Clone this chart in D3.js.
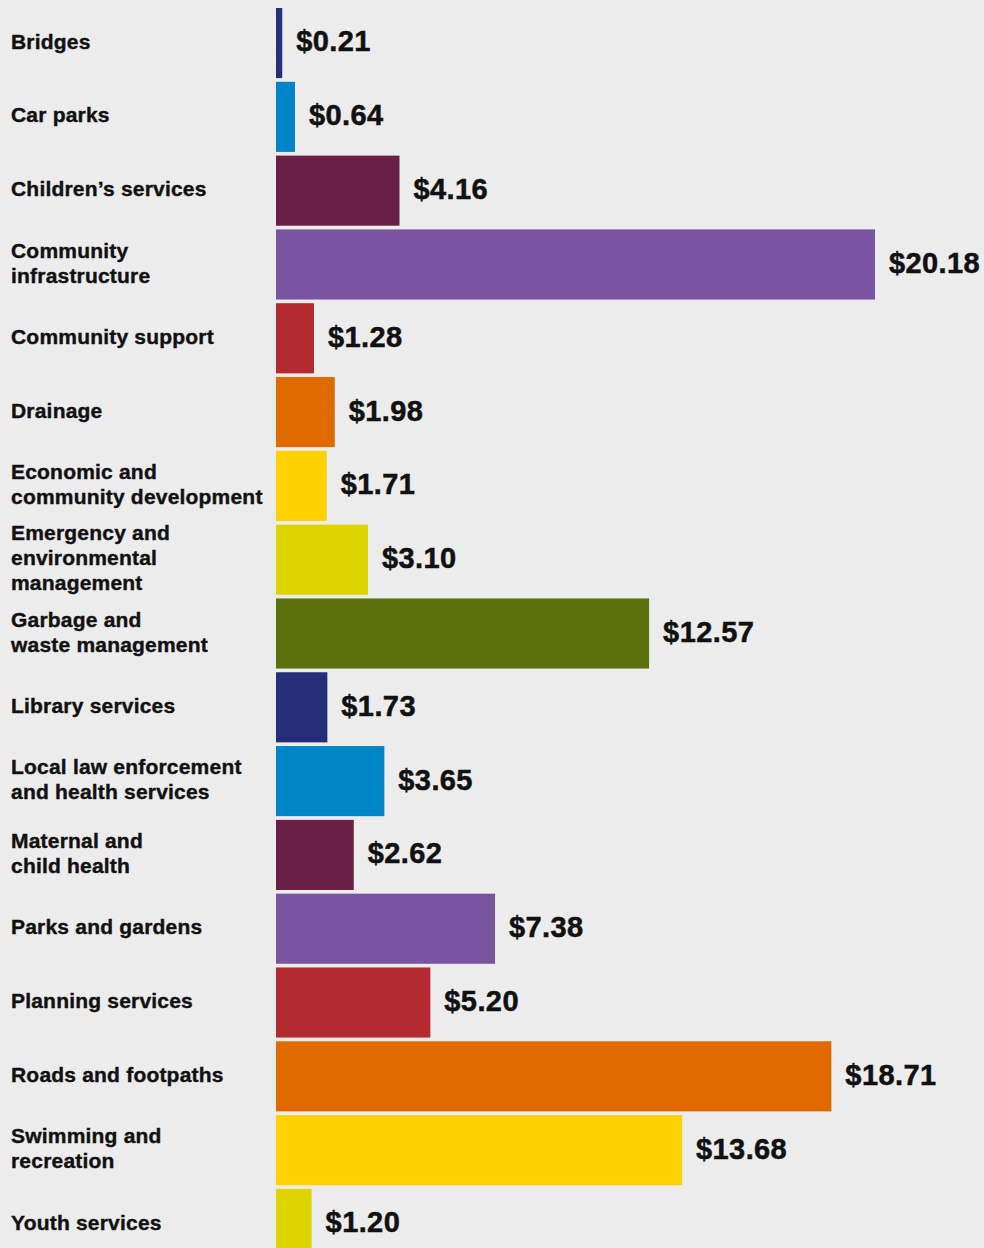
<!DOCTYPE html>
<html>
<head>
<meta charset="utf-8">
<script src="https://cdn.jsdelivr.net/npm/d3@7"></script>
<style>
  html, body { margin: 0; padding: 0; background: #ececec; }
  svg { display: block; }
</style>
</head>
<body>
<script>
const categories = [
  "Bridges",
  "Car parks",
  "Children’s services",
  "Community\ninfrastructure",
  "Community support",
  "Drainage",
  "Economic and\ncommunity development",
  "Emergency and\nenvironmental\nmanagement",
  "Garbage and\nwaste management",
  "Library services",
  "Local law enforcement\nand health services",
  "Maternal and\nchild health",
  "Parks and gardens",
  "Planning services",
  "Roads and footpaths",
  "Swimming and\nrecreation",
  "Youth services"
];
const values = [0.21, 0.64, 4.16, 20.18, 1.28, 1.98, 1.71, 3.10, 12.57, 1.73, 3.65, 2.62, 7.38, 5.20, 18.71, 13.68, 1.20];
const palette = ["#262e7a", "#0085c8", "#6a1f45", "#7a54a0", "#b32b30", "#e06a00", "#ffd100", "#ded500", "#5c710b"];

const w = 984;
const h = 1248;
const x0 = 276;
const font = "'Liberation Sans', Arial, sans-serif";

const data = categories.map((c, i) => ({ name: c, value: values[i] }));

const svg = d3.select("body")
              .append("svg")
              .attr("width", w)
              .attr("height", h);

svg.append("rect")
   .attr("width", w)
   .attr("height", h)
   .attr("fill", "#ececec");

const xScale = d3.scaleLinear()
                 .domain([0, d3.max(values)])
                 .range([x0, 875]);

const yScale = d3.scaleBand()
                 .domain(categories)
                 .range([8, 1259])
                 .paddingInner(0.05)
                 .paddingOuter(0);

const color = d3.scaleOrdinal()
                .domain(categories)
                .range(palette);

svg.selectAll("rect.bar")
   .data(data)
   .enter()
   .append("rect")
   .attr("class", "bar")
   .attr("x", xScale(0))
   .attr("y", d => yScale(d.name))
   .attr("width", d => xScale(d.value) - xScale(0))
   .attr("height", yScale.bandwidth())
   .attr("fill", d => color(d.name));

svg.selectAll("text.value")
   .data(data)
   .enter()
   .append("text")
   .attr("class", "value")
   .attr("x", d => xScale(d.value) + 14)
   .attr("y", d => yScale(d.name) + yScale.bandwidth() / 2 - 2)
   .attr("dy", "0.36em")
   .attr("font-family", font)
   .attr("font-weight", "bold")
   .attr("font-size", 29)
   .attr("letter-spacing", 0.4)
   .attr("fill", "#111")
   .attr("stroke", "#111")
   .attr("stroke-width", 0.5)
   .text(d => "$" + d3.format(".2f")(d.value));

const lineH = 25;
const labels = svg.selectAll("text.cat")
   .data(data)
   .enter()
   .append("text")
   .attr("class", "cat")
   .attr("font-family", font)
   .attr("font-weight", "bold")
   .attr("font-size", 21)
   .attr("letter-spacing", 0.2)
   .attr("fill", "#111")
   .attr("stroke", "#111")
   .attr("stroke-width", 0.4);

labels.each(function(d) {
  const lines = d.name.split("\n");
  const cy = yScale(d.name) + yScale.bandwidth() / 2 - 2;
  const top = cy - (lines.length - 1) * lineH / 2;
  d3.select(this).selectAll("tspan")
    .data(lines)
    .enter()
    .append("tspan")
    .attr("x", 11)
    .attr("y", (l, i) => top + i * lineH)
    .attr("dy", "0.36em")
    .text(l => l);
});
</script>
</body>
</html>
